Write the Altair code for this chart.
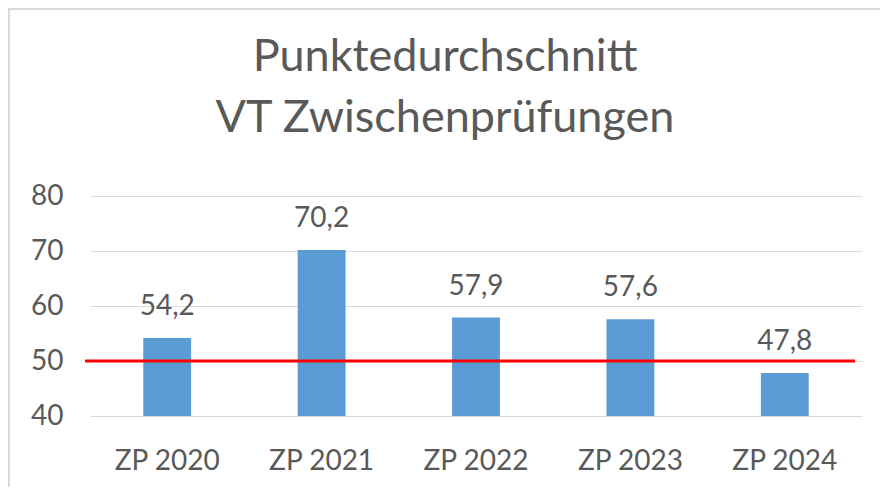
import altair as alt
import pandas as pd

categories = ["ZP 2020", "ZP 2021", "ZP 2022", "ZP 2023", "ZP 2024"]
values = [54.2, 70.2, 57.9, 57.6, 47.8]
labels = ["54,2", "70,2", "57,9", "57,6", "47,8"]
reference_value = [50]
y_ticks = [40, 50, 60, 70, 80]

df = pd.DataFrame({"cat": categories, "val": values, "lab": labels})
ref = pd.DataFrame({"ref": reference_value})

FONT = "Lato"
TXT = "#595959"

x_enc = alt.X(
    "cat:N",
    sort=categories,
    title=None,
    scale=alt.Scale(paddingInner=0.69, paddingOuter=0.345),
    axis=alt.Axis(
        labelAngle=0,
        labelFontSize=28,
        labelFont=FONT,
        labelColor=TXT,
        labelPadding=31,
        labelBaseline="top",
        ticks=False,
        domain=False,
        grid=False,
    ),
)
y_enc = alt.Y(
    "val:Q",
    title=None,
    scale=alt.Scale(domain=[40, 80], nice=False, zero=False),
    axis=alt.Axis(
        values=y_ticks,
        labelFontSize=28,
        labelFont=FONT,
        labelColor=TXT,
        labelPadding=27,
        ticks=False,
        domain=False,
        gridColor="#D9D9D9",
        gridWidth=1,
    ),
)

base = alt.Chart(df)
bars = base.mark_bar(color="#5B9BD5", clip=True).encode(
    x=x_enc, y=y_enc, y2=alt.datum(40)
)
text = base.mark_text(
    dy=-23, baseline="alphabetic", fontSize=28, font=FONT, color=TXT
).encode(
    x=alt.X("cat:N", sort=categories),
    y=alt.Y("val:Q"),
    text="lab:N",
)
rule = alt.Chart(ref).mark_rule(color="#FF0000", strokeWidth=3).encode(
    y=alt.Y("ref:Q"), x=alt.value(-5), x2=alt.value(765)
)
# light chart-area frame (top and left edges)
frame_top = alt.Chart(ref).mark_rule(color="#D9D9D9", strokeWidth=2).encode(
    x=alt.value(-82), x2=alt.value(790), y=alt.value(-187)
)
frame_left = alt.Chart(ref).mark_rule(color="#D9D9D9", strokeWidth=2).encode(
    x=alt.value(-81), y=alt.value(-187), y2=alt.value(300)
)

chart = (
    alt.layer(bars, text, rule, frame_top, frame_left)
    .properties(
        width=772,
        height=220,
        background="white",
        autosize=alt.AutoSizeParams(type="none"),
        padding={"left": 82, "top": 188, "right": 18, "bottom": 71},
        title=alt.TitleParams(
            text=["Punktedurchschnitt", "VT Zwischenprüfungen"],
            font=FONT,
            fontSize=45,
            fontWeight="normal",
            color=TXT,
            lineHeight=61,
            anchor="middle",
            frame="group",
            dx=-31,
            dy=133,
            offset=0,
        ),
    )
    .configure_view(strokeWidth=0)
)

chart.save("out.html", embed_options={"renderer": "svg", "actions": False})
